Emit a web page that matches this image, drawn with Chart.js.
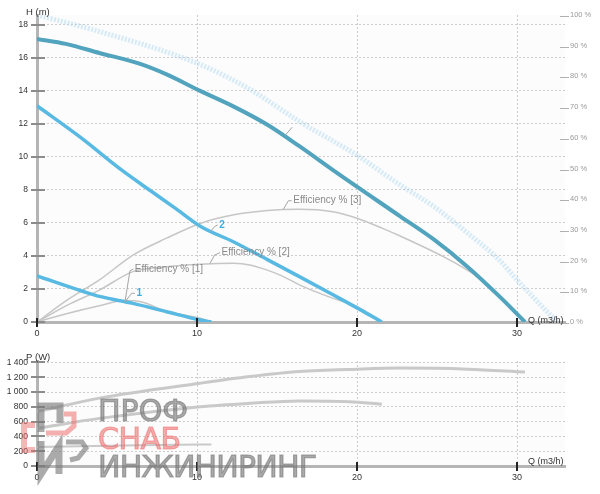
<!DOCTYPE html>
<html>
<head>
<meta charset="utf-8">
<script src="https://cdn.jsdelivr.net/npm/chart.js@4.4.1/dist/chart.umd.min.js"></script>
<style>
body{margin:0;background:#fff;}
#page{position:relative;width:600px;height:494px;overflow:hidden;background:#fff;}
canvas{position:absolute;left:0;}
#top{top:0;}
#bot{top:340px;}
.wm{position:absolute;left:98px;font-family:'DejaVu Sans';font-size:30px;line-height:30px;white-space:nowrap;pointer-events:none;}
.gr{color:rgba(120,120,120,0.62);-webkit-text-stroke:1.2px rgba(120,120,120,0.62);}
.rd{color:rgba(236,110,110,0.55);-webkit-text-stroke:1.2px rgba(236,110,110,0.55);}
#logo{position:absolute;left:0;top:0;pointer-events:none;}
</style>
</head>
<body>
<div id="page">
<canvas id="top" width="600" height="340"></canvas>
<canvas id="bot" width="600" height="154"></canvas>
<svg id="logo" width="600" height="494">
  <g fill="none" stroke-linejoin="miter">
    <path d="M41 432 V406 H60 V423" stroke="rgba(120,120,120,0.62)" stroke-width="7"/>
    <path d="M35 425 H24 V450 H35" stroke="rgba(236,110,110,0.5)" stroke-width="6"/>
    <path d="M46 433 H66 L74 426 V414 H64" stroke="rgba(236,110,110,0.55)" stroke-width="5"/>
    <path d="M41 441 V474 L59 446 V474" stroke="rgba(120,120,120,0.62)" stroke-width="7"/>
    <path d="M66 442 H82 L86 448 L78 458 L70 460" stroke="rgba(120,120,120,0.62)" stroke-width="5"/>
  </g>
</svg>
<div class="wm gr" style="top:396px">ПРОФ</div>
<div class="wm rd" style="top:424px;letter-spacing:-0.5px">СНАБ</div>
<div class="wm gr" style="top:452px;letter-spacing:-0.8px">ИНЖИНИРИНГ</div>
</div>
<script>
// valeurs
const qTicks = [0, 10, 20, 30];
const hTicks = [0, 2, 4, 6, 8, 10, 12, 14, 16, 18];
const pctTicks = [0, 10, 20, 30, 40, 50, 60, 70, 80, 90, 100];
const pTicks = [0, 200, 400, 600, 800, 1000, 1200, 1400];

// courbe max (pointillee)
const qMax = [0, 3.9, 10.2, 13.3, 16.4, 20, 22.7, 24.8, 26.9, 28.9, 30, 32.5];
const hMax = [18.6, 17.6, 15.6, 14.1, 12.15, 10.1, 8.3, 7.0, 5.4, 3.75, 2.55, 0];
// courbes H 1, 2, 3
const q3 = [0, 1.8, 3.9, 6.4, 8.1, 10.2, 12.3, 14.4, 16.4, 18.5, 22.7, 24.8, 26.9, 28.9, 30.5];
const h3 = [17.15, 16.85, 16.3, 15.65, 15.0, 14.0, 13.05, 11.95, 10.65, 9.2, 6.4, 5.0, 3.35, 1.55, 0];
const q2 = [0, 2.7, 5.3, 7.1, 8.7, 10.2, 12.3, 14.4, 16.4, 18.5, 20.2, 21.55];
const h2 = [13.1, 11.2, 9.2, 7.95, 6.85, 5.8, 4.85, 3.78, 2.75, 1.65, 0.75, 0];
const q1 = [0, 2.9, 3.9, 6.0, 8.1, 10.2, 10.9];
const h1 = [2.8, 1.85, 1.55, 1.13, 0.62, 0.12, 0];
// rendement en %
const qEff1 = [0, 1.9, 3.9, 5.5, 6.5, 8.1, 10.2, 10.9];
const eff1 = [0, 2.8, 5.3, 7.0, 6.6, 3.5, 1.2, 0];
const qEff2 = [0, 1.9, 3.9, 6.0, 8.1, 10.2, 12.3, 13.3, 14.4, 15.4, 16.4, 18.5, 20.0, 21.55];
const eff2 = [0, 5.5, 10.4, 16.4, 18.0, 18.8, 19.1, 18.6, 16.9, 14.8, 12.1, 7.7, 5.0, 0];
const qEff3 = [0, 1.9, 3.9, 6.0, 8.1, 10.2, 12.3, 14.4, 16.4, 18.5, 20.0, 21.6, 22.7, 25.4, 26.9, 27.5, 28.2];
const eff3 = [0, 7.2, 13.7, 21.8, 27.3, 32.1, 34.9, 36.3, 36.7, 35.9, 33.8, 30.5, 28.0, 21.3, 16.9, 14.8, 11.8];
// puissance P (W)
const qP3 = [0, 3.9, 10.2, 13.3, 16.4, 20, 22.7, 26.9, 30.5];
const p3 = [735, 918, 1120, 1209, 1277, 1310, 1324, 1310, 1270];
const qP2 = [0, 3.9, 10.2, 13.3, 16.4, 19.5, 21.55];
const p2 = [508, 644, 802, 848, 879, 870, 834];
const qP1 = [0, 5.4, 10.2, 10.9];
const p1 = [258, 276, 290, 291];

// etiquettes avec trait de rappel
const notes = [
  { text: 'Efficiency % [1]', axis: 'yPct', q: [5.5, 5.81, 6.02], v: [6.6, 16.7, 17.2] },
  { text: '1', axis: 'yPct', q: [5.5, 5.92, 6.12], v: [6.6, 9.35, 9.35], blue: true },
  { text: 'Efficiency % [2]', axis: 'yPct', q: [10.81, 11.1, 11.44], v: [19.1, 21.8, 22.6] },
  { text: 'Efficiency % [3]', axis: 'yPct', q: [15.4, 15.71, 15.92], v: [36.7, 39.5, 39.5] },
  { text: '2', axis: 'y', q: [10.81, 11.1, 11.3], v: [5.45, 5.78, 5.88], blue: true },
  { text: '', axis: 'y', q: [15.5, 15.95], v: [11.3, 11.8] }
];

Chart.defaults.font.family = "'Liberation Sans', Arial, sans-serif";

const zip = (xs, ys) => xs.map((x, i) => ({ x: x, y: ys[i] }));
const fmtP = v => v >= 1000 ? Math.floor(v / 1000) + ' ' + String(v % 1000).padStart(3, '0') : String(v);
const gridCol = c => (c.tick && c.tick.value === 0) ? 'rgba(0,0,0,0)' : '#cdcdcd';

const line = (data, color, width, extra) => Object.assign({
  data: data, borderColor: color, borderWidth: width, pointRadius: 0, showLine: true,
  fill: false, cubicInterpolationMode: 'monotone'
}, extra || {});

// dessins en plus : fond, traits des graduations, titres, etiquettes
const marks = {
  id: 'marks',
  beforeDraw(chart) {
    const a = chart.chartArea, ctx = chart.ctx;
    ctx.save();
    ctx.fillStyle = '#fcfcfc';
    ctx.fillRect(a.left, a.top, a.right - a.left, a.bottom - a.top);
    ctx.restore();
  },
  afterDraw(chart, args, o) {
    const ctx = chart.ctx, a = chart.chartArea, sx = chart.scales.x, sy = chart.scales.y;
    ctx.save();
    ctx.lineWidth = 2;
    ctx.strokeStyle = '#8c8c8c';
    sy.ticks.forEach(t => {
      const y = Math.round(sy.getPixelForValue(t.value));
      ctx.beginPath(); ctx.moveTo(a.left - 6, y); ctx.lineTo(a.left + 8, y); ctx.stroke();
    });
    ctx.strokeStyle = '#222';
    sx.ticks.forEach(t => {
      const x = Math.round(sx.getPixelForValue(t.value));
      ctx.beginPath(); ctx.moveTo(x, a.bottom - 4); ctx.lineTo(x, a.bottom + 5); ctx.stroke();
    });
    const sp = chart.scales.yPct;
    if (sp) {
      ctx.lineWidth = 1;
      ctx.strokeStyle = '#b0b0b0';
      sp.ticks.forEach(t => {
        const y = Math.round(sp.getPixelForValue(t.value)) + 1.5;
        ctx.beginPath(); ctx.moveTo(a.right - 5, y); ctx.lineTo(a.right + 4, y); ctx.stroke();
      });
    }
    ctx.fillStyle = '#333';
    ctx.textBaseline = 'middle';
    ctx.font = "9.5px 'Liberation Sans'";
    ctx.fillText(o.yTitle, 26, o.yTitleY);
    ctx.font = "9px 'Liberation Sans'";
    ctx.fillText('Q (m3/h)', 528, a.bottom + o.qDy);
    (o.notes || []).forEach(n => {
      const s = chart.scales[n.axis];
      const pts = n.q.map((q, i) => [sx.getPixelForValue(q), s.getPixelForValue(n.v[i])]);
      ctx.strokeStyle = '#a5a5a5';
      ctx.lineWidth = 1;
      ctx.beginPath();
      pts.forEach((p, i) => i ? ctx.lineTo(p[0], p[1]) : ctx.moveTo(p[0], p[1]));
      ctx.stroke();
      const last = pts[pts.length - 1];
      ctx.fillStyle = n.blue ? '#3aaee0' : '#8a8a8a';
      ctx.font = (n.blue ? 'bold ' : '') + "10px 'Liberation Sans'";
      ctx.fillText(n.text, last[0] + 1.5, last[1]);
    });
    ctx.restore();
  }
};

const xScale = h => ({
  type: 'linear', min: 0, max: 33,
  afterBuildTicks: s => { s.ticks = qTicks.map(v => ({ value: v })); },
  afterFit: s => { s.height = h; },
  grid: { color: gridCol, lineWidth: 1, drawTicks: false },
  border: { color: '#b5b5b5', width: 3, dash: [2, 2] },
  ticks: { padding: 6, color: '#333', font: { size: 9 }, maxRotation: 0 }
});

new Chart(document.getElementById('top'), {
  type: 'scatter',
  data: {
    datasets: [
      line(zip(q3, h3), '#52a3bd', 4),
      line(zip(q2, h2), '#58b9e2', 3.5),
      line(zip(q1, h1), '#58b9e2', 3.5),
      line(zip(qEff1, eff1), '#c6c6c6', 1.5, { yAxisID: 'yPct' }),
      line(zip(qEff2, eff2), '#c6c6c6', 1.5, { yAxisID: 'yPct' }),
      line(zip(qEff3, eff3), '#c6c6c6', 1.5, { yAxisID: 'yPct' }),
      line(zip(qMax, hMax), 'rgba(175,218,242,0.5)', 5, { borderDash: [2, 1.5] })
    ]
  },
  options: {
    responsive: false, animation: false, events: [],
    layout: { padding: { top: 15, left: 0, right: 0, bottom: 0 } },
    plugins: {
      legend: { display: false }, tooltip: { enabled: false },
      marks: { yTitle: 'H (m)', yTitleY: 12, qDy: -1, notes: notes }
    },
    scales: {
      x: xScale(18),
      y: {
        position: 'left', min: 0, max: 18.6,
        afterBuildTicks: s => { s.ticks = hTicks.map(v => ({ value: v })); },
        afterFit: s => { s.width = 37; },
        grid: { color: gridCol, drawTicks: false },
        border: { color: '#b5b5b5', width: 3, dash: [2, 2] },
        ticks: { padding: 9, color: '#333', font: { size: 8.5 } }
      },
      yPct: {
        position: 'right', min: 0, max: 100,
        afterBuildTicks: s => { s.ticks = pctTicks.map(v => ({ value: v })); },
        afterFit: s => { s.width = 35; },
        grid: { drawOnChartArea: false, drawTicks: false },
        border: { display: false },
        ticks: { padding: 5, color: '#9a9a9a', font: { size: 7.5 }, callback: v => v + ' %' }
      }
    }
  },
  plugins: [marks]
});

new Chart(document.getElementById('bot'), {
  type: 'scatter',
  data: {
    datasets: [
      line(zip(qP3, p3), '#c9c9c9', 3),
      line(zip(qP2, p2), '#c9c9c9', 3),
      line(zip(qP1, p1), '#c9c9c9', 2)
    ]
  },
  options: {
    responsive: false, animation: false, events: [],
    layout: { padding: { top: 21, left: 0, right: 35, bottom: 0 } },
    plugins: {
      legend: { display: false }, tooltip: { enabled: false },
      marks: { yTitle: 'P (W)', yTitleY: 17, qDy: -4 }
    },
    scales: {
      x: xScale(28),
      y: {
        position: 'left', min: 0, max: 1420,
        afterBuildTicks: s => { s.ticks = pTicks.map(v => ({ value: v })); },
        afterFit: s => { s.width = 37; },
        grid: { color: gridCol, drawTicks: false },
        border: { color: '#b5b5b5', width: 3, dash: [2, 2] },
        ticks: { padding: 9, color: '#333', font: { size: 8.5 }, callback: fmtP }
      }
    }
  },
  plugins: [marks]
});
</script>
</body>
</html>
